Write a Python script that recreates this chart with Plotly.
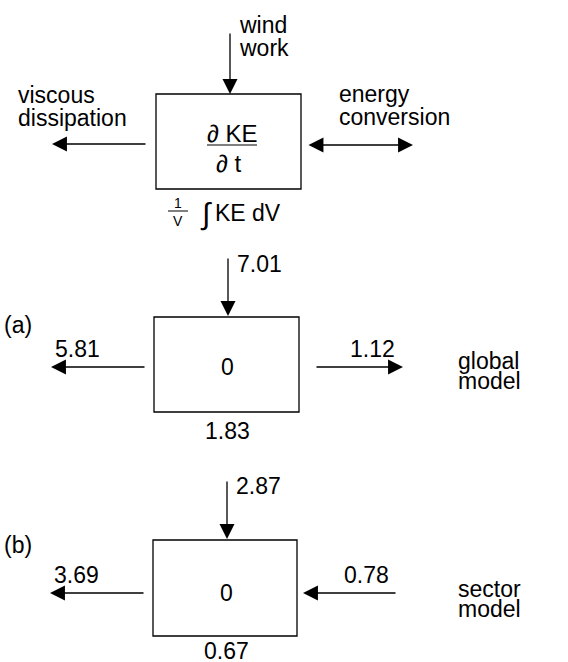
import plotly.graph_objects as go

# budget values (arbitrary units) for the two model runs
panels = ["(a)", "(b)"]
model_names = [["global", "model"], ["sector", "model"]]
wind_work = [7.01, 2.87]
dissipation = [5.81, 3.69]
conversion = [1.12, -0.78]   # > 0: KE leaves the box, < 0: KE enters
tendency = [0, 0]
mean_ke = [1.83, 0.67]

W, H = 568, 662
FONT = "Liberation Sans, Arial, Helvetica, sans-serif"
FS = 23

fig = go.Figure()
fig.update_layout(
    width=W, height=H,
    margin=dict(l=0, r=0, t=0, b=0),
    plot_bgcolor="white", paper_bgcolor="white",
    showlegend=False,
    xaxis=dict(range=[0, W], visible=False, fixedrange=True),
    yaxis=dict(range=[H, 0], visible=False, fixedrange=True),
    font=dict(family=FONT, size=FS, color="black"),
)


def text(x, y, s, anchor="left", size=FS):
    fig.add_annotation(x=x, y=y, text=s, showarrow=False, xanchor=anchor,
                       yanchor="middle", font=dict(size=size),
                       xref="x", yref="y")


def arrow(x0, y0, x1, y1, both=False):
    # tail (x0, y0) -> head (x1, y1)
    fig.add_annotation(x=x1, y=y1, ax=x0, ay=y0, xref="x", yref="y",
                       axref="x", ayref="y", text="", showarrow=True,
                       arrowhead=2, arrowsize=2.3, arrowwidth=1.3,
                       arrowcolor="black", standoff=0, startstandoff=0,
                       arrowside="end+start" if both else "end",
                       startarrowhead=2, startarrowsize=2.3)


def box(x0, y0, x1, y1):
    fig.add_shape(type="rect", x0=x0, y0=y0, x1=x1, y1=y1,
                  line=dict(color="black", width=1.3), xref="x", yref="y")


def hline(x0, x1, y, w=1.2):
    fig.add_shape(type="line", x0=x0, x1=x1, y0=y, y1=y,
                  line=dict(color="black", width=w), xref="x", yref="y")


# ---- schematic on top ----
box(156, 94, 301, 189)
arrow(230, 32, 230, 94)
text(237, 25, "wind")
text(237, 48, "work")
arrow(147, 144, 52, 144)
text(16, 95, "viscous")
text(16, 118, "dissipation")
arrow(307, 145, 413, 145, both=True)
text(337, 94, "energy")
text(337, 117, "conversion")
text(232, 133, "∂ KE", anchor="center", size=24)
hline(207, 257, 145)
text(229, 163, "∂ t", anchor="center", size=24)
text(178, 203, "1", anchor="center", size=14)
hline(168, 188, 211, w=1)
text(178, 221, "V", anchor="center", size=14)
text(206, 214, "∫", anchor="center", size=30)
text(213, 213, "KE dV")

# ---- model budgets ----
geo = [
    dict(x0=154, y0=317, x1=299, y1=412),
    dict(x0=153, y0=540, x1=297, y1=636),
]
for i, g in enumerate(geo):
    xc = g["x0"] + 74
    ymid = g["y0"] + 50 + 3 * i
    # wind work from above
    arrow(xc, g["y0"] - 60, xc, g["y0"] - 1)
    text(xc + 7, g["y0"] - 53 - 1 * i, f"{wind_work[i]:.2f}")
    text(2, g["y0"] + 8 - 3 * i, panels[i])
    # dissipation to the left
    arrow(g["x0"] - 8, ymid, g["x0"] - 103, ymid)
    text(g["x0"] - 101, ymid - 18, f"{dissipation[i]:.2f}")
    # conversion on the right, direction from the sign
    inner, outer = g["x1"] + 10 + 3 * (1 - i), g["x1"] + 104 - 4 * i
    if conversion[i] > 0:
        arrow(inner + 3, ymid, outer, ymid)
    else:
        arrow(outer, ymid, inner - 4, ymid)
    text(outer - 6, ymid - 18, f"{abs(conversion[i]):.2f}", anchor="right")
    # model name
    text(456, ymid - 6 + 2 * i, model_names[i][0])
    text(456, ymid + 14 + 2 * i, model_names[i][1])
    # tendency in the box, mean KE below
    box(g["x0"], g["y0"], g["x1"], g["y1"])
    text(xc - 1, ymid, f"{tendency[i]}", anchor="center")
    text(xc - 1, g["y1"] + 19 - 4 * i, f"{mean_ke[i]:.2f}", anchor="center")

fig.write_html("out.html", config={"displayModeBar": False},
               post_script="document.body.style.margin='0';")
